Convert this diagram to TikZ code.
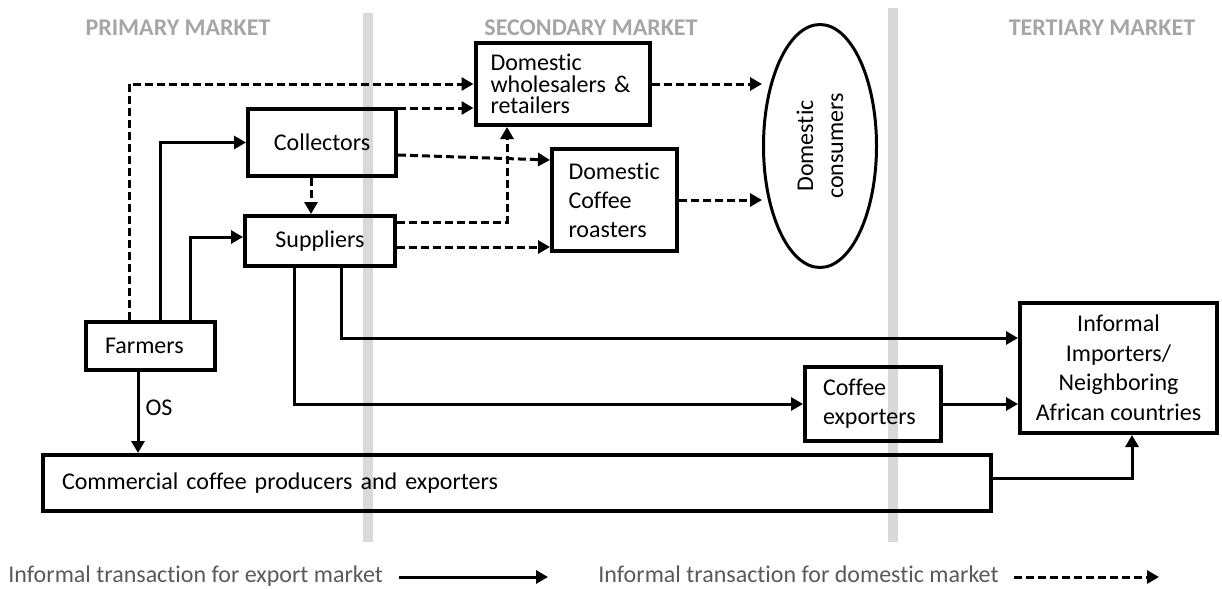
\documentclass[tikz,border=0pt]{standalone}
\usepackage{fontspec}
\setmainfont{Carlito}[Ligatures=NoCommon]
\usepackage{xcolor}
\usepackage{tikz}
\usetikzlibrary{arrows.meta, positioning, shapes.geometric, calc}
\definecolor{hdrgray}{HTML}{A6A6A6}
\definecolor{bargray}{HTML}{D9D9D9}
\definecolor{txtgray}{HTML}{595959}

\begin{document}
\begin{tikzpicture}[
    x=0.5pt, y=-0.5pt,
    box/.style={
      rectangle, draw, line width=2pt, inner sep=0pt,
      font=\fontsize{12}{14.5}\selectfont
    },
    tight/.style={font=\fontsize{12}{10.6}\selectfont},
    market/.style={font=\fontsize{12}{14}\selectfont\bfseries, text=hdrgray},
    legend/.style={font=\fontsize{12}{14}\selectfont, text=txtgray, inner sep=0pt},
    bar/.style={line width=5pt, draw=bargray},
    exp/.style={-{Triangle[length=6pt,width=6.5pt]}, line width=1.5pt},
    dom/.style={exp, dash pattern=on 4pt off 2pt}
  ]
    \useasboundingbox (0,0) rectangle (1222,589);

    % market borders
    \draw[bar] (368,13) -- (368,542);
    \draw[bar] (893,8)  -- (893,542);

    \node[market] (prim) at (178,28)  {PRIMARY MARKET};
    \node[market] (sec)  at (591,28)  {SECONDARY MARKET};
    \node[market] (ter)  at (1102,28) {TERTIARY MARKET};

    % actors
    \node[box, minimum width=74pt, minimum height=33.5pt] (coll) at (322,142.5) {Collectors};
    \node[box, minimum width=75pt, minimum height=25pt]   (supp) at (320,241)   {Suppliers};
    \node[box, minimum width=64.5pt, minimum height=24pt, text width=45.5pt, align=left] (farm) at (150.5,346) {Farmers};
    \node[box, tight, minimum width=87pt, minimum height=41pt, text width=72pt, align=left] (whole) at (562.5,84) {Domestic\\wholesalers \&\\retailers};
    \node[box, minimum width=62.5pt, minimum height=51pt, text width=46pt, align=left] (roast) at (614.5,200) {Domestic\\Coffee\\roasters};
    \node[ellipse, draw, line width=1.5pt, rotate=90, inner sep=0pt, align=center,
          minimum width=121.5pt, minimum height=56.5pt, font=\fontsize{12}{15}\selectfont] (cons) at (820,146) {Domestic\\consumers};
    \node[box, minimum width=68pt, minimum height=37pt, text width=50pt, align=left] (expo) at (873,404) {Coffee\\exporters};
    \node[box, minimum width=98.5pt, minimum height=65pt, align=center, font=\fontsize{12}{14.75}\selectfont] (imp) at (1118.5,368) {Informal\\Importers/\\Neighboring\\African countries};
    \node[box, minimum width=474pt, minimum height=28pt, text width=455pt, align=left] (comm) at (517,483) {Commercial coffee producers and exporters};

    % domestic flows
    \draw[dom] ([xshift=-10.75pt]farm.north) |- (whole.west);
    \draw[dom] ([yshift=17.25pt]coll.east) -- ([yshift=17.25pt]coll.east -| whole.west);
    \draw[dom] ([yshift=-6.25pt]coll.east) -- ([yshift=20pt]roast.west);
    \draw[dom] ([xshift=-5.5pt]coll.south) -- ([xshift=-5.5pt]coll.south |- supp.north);
    \draw[dom] ([yshift=9.5pt]supp.east) -| ([xshift=-27.75pt]whole.south);
    \draw[dom] ([yshift=-3pt]supp.east) -- ([yshift=-3pt]supp.east -| roast.west);
    \draw[dom] (whole.east) -- (whole.east -| cons.north);
    \draw[dom] (roast.east) -- (roast.east -| cons.north);

    % export flows
    \draw[exp] ([xshift=4.75pt]farm.north) |- (coll.west);
    \draw[exp] ([xshift=19.75pt]farm.north) |- ([yshift=2pt]supp.west);
    \draw[exp] ([xshift=10.5pt]supp.south) |- ([yshift=15pt]imp.west);
    \draw[exp] ([xshift=-13pt]supp.south) |- (expo.west);
    \draw[exp] (expo.east) -- (expo.east -| imp.west);
    \draw[exp] ([yshift=2.5pt]comm.east) -| ([xshift=6.75pt]imp.south);
    \draw[exp] ([xshift=-6.25pt]farm.south) -- ([xshift=-6.25pt]farm.south |- comm.north)
      node[pos=0.44, right, inner sep=3pt, font=\fontsize{12}{14}\selectfont] (os) {OS};

    % legend
    \node[legend, anchor=base west] (lgexp) at (8,582)   {Informal transaction for export market};
    \node[legend, anchor=base west] (lgdom) at (598,582) {Informal transaction for domestic market};
    \coordinate (lgexpend) at (548,577);
    \coordinate (lgdomend) at (1159,577);
    \draw[exp] ([xshift=8pt]lgexp.east |- lgexpend) -- (lgexpend);
    \draw[dom] ([xshift=7.5pt]lgdom.east |- lgdomend) -- (lgdomend);
\end{tikzpicture}
\end{document}
